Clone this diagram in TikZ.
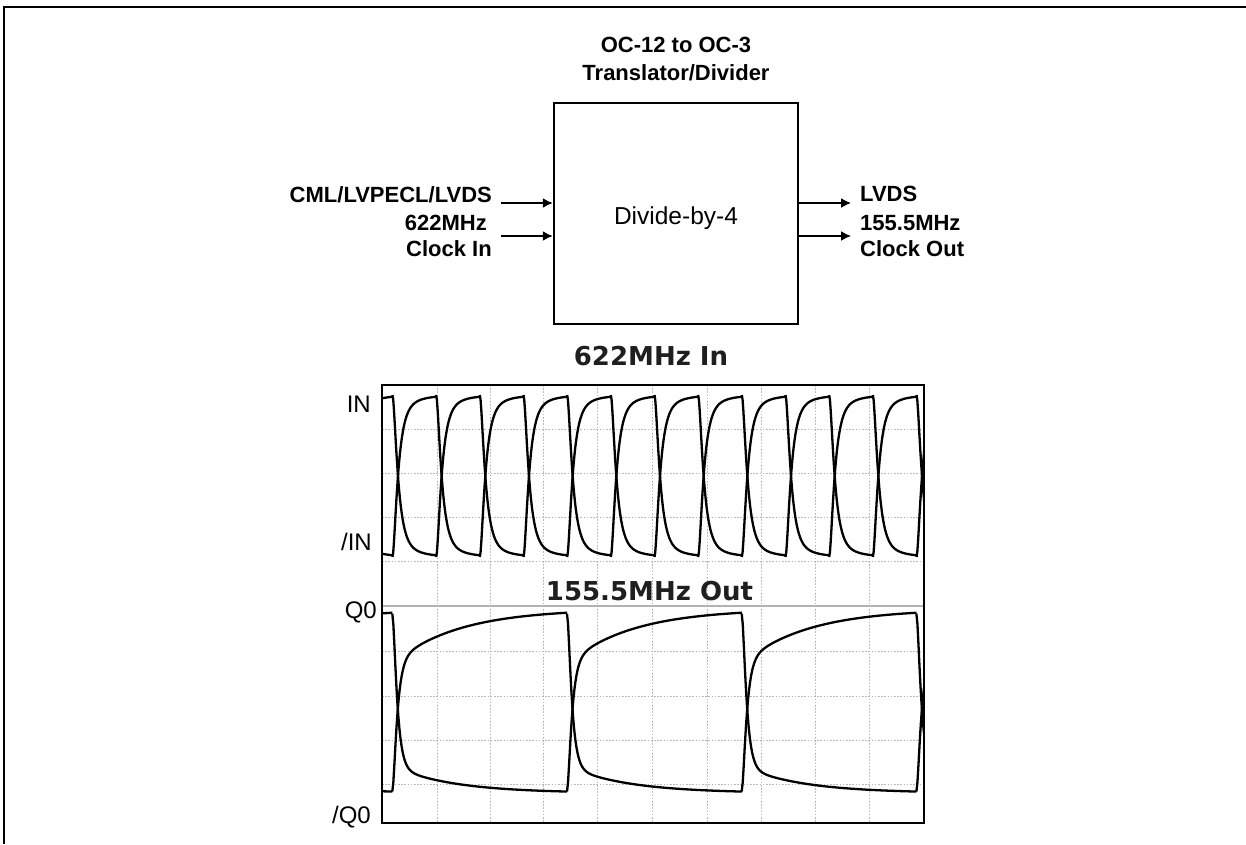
\documentclass[tikz,border=0pt]{standalone}
\usepackage{fontspec}
\setmainfont{Liberation Sans}
\newfontfamily\scopefont{DejaVu Sans}
\usetikzlibrary{arrows.meta}
\begin{document}
\begin{tikzpicture}[x=1pt,y=-1pt,
  lbl/.style={font=\fontsize{22}{26}\selectfont\bfseries, inner sep=0pt},
  blocktxt/.style={font=\fontsize{24.5}{28}\selectfont, inner sep=0pt},
  axl/.style={font=\fontsize{24}{28}\selectfont, inner sep=0pt},
  ttl/.style={font=\scopefont\fontsize{26}{30}\selectfont\bfseries, text=black!88, inner sep=0pt},
  arr/.style={line width=1.5pt, -{Latex[length=10pt,width=10pt]}},
  grid line/.style={gray!55, line width=1pt, dash pattern=on 1.6pt off 1.6pt},
  trace/.style={black, line width=2.3pt, line join=round}]
\useasboundingbox (0,0) rectangle (1246,844);
\fill[white] (0,0) rectangle (1246,844);
% outer frame (top and left only visible)
\draw[line width=2.2pt] (4,844) -- (4,7) -- (1246,7);

% ---------- block diagram ----------
\node[lbl, anchor=base] (t1) at (676,52.5) {OC-12 to OC-3};
\node[lbl, anchor=base] (t2) at (676,80.5) {Translator/Divider};
\node[draw, line width=2.5pt, minimum width=244pt, minimum height=221pt, inner sep=0pt] (blk) at (676,213.5) {};
\node[blocktxt, anchor=base] (div) at (676,224) {Divide-by-4};

\coordinate (i1) at (501,203);
\coordinate (i2) at (501,236);
\coordinate (o1) at (851,203);
\coordinate (o2) at (851,236);
\draw[arr] (i1) -- (i1 -| blk.west);
\draw[arr] (i2) -- (i2 -| blk.west);
\draw[arr] (o1 -| blk.east) -- (o1);
\draw[arr] (o2 -| blk.east) -- (o2);

\node[lbl, anchor=base east] (l1) at (492,202.3) {CML/LVPECL/LVDS};
\node[lbl, anchor=base east] (l2) at (487,230) {622MHz};
\node[lbl, anchor=base east] (l3) at (492,256.7) {Clock In};
\node[lbl, anchor=base west] (r1) at (860,201.7) {LVDS};
\node[lbl, anchor=base west] (r2) at (860,230) {155.5MHz};
\node[lbl, anchor=base west] (r3) at (860,256.7) {Clock Out};

% ---------- scope screen ----------
\node[ttl, anchor=base] (sc1) at (651,365) {622MHz In};

\foreach \gx in {437,490,543,597,652,707,761,815,869}
  \draw[grid line] (\gx,385) -- (\gx,823);
\foreach \gy in {429,473,517,561,651,696,740,784}
  \draw[grid line] (382,\gy) -- (924,\gy);
\draw[gray!60, line width=1.2pt] (382,606) -- (924,606);

\node[ttl, anchor=base] (sc2) at (649.5,600.7) {155.5MHz Out};

\begin{scope}
\clip (382,385) rectangle (924,823);
% 622 MHz differential input
\foreach \k in {-1,...,12} {
  \pgfmathsetmacro\s{392.5+43.67*\k}
  \draw[trace] plot[domain=0:43.7, samples=60]
    ({\s+\x}, {395+162*(0.88*(5*exp(max(-\x/5,-15))-1.5*exp(max(-\x/1.5,-15)))/3.5+0.12*exp(-\x/18))});
  \draw[trace] plot[domain=0:43.7, samples=60]
    ({\s+\x}, {557-162*(0.88*(5*exp(max(-\x/5,-15))-1.5*exp(max(-\x/1.5,-15)))/3.5+0.12*exp(-\x/18))});
}
% 155.5 MHz output
\foreach \k in {-1,...,3} {
  \pgfmathsetmacro\s{392.3+174.7*\k}
  \draw[trace] plot[domain=0:174.8, samples=170]
    ({\s+\x}, {609+182.5*(0.7*(4*exp(max(-\x/4,-15))-1.5*exp(max(-\x/1.5,-15)))/2.5+0.3*exp(-\x/65))});
  \draw[trace] plot[domain=0:174.8, samples=170]
    ({\s+\x}, {793-179.3*(0.85*(4*exp(max(-\x/4,-15))-1.5*exp(max(-\x/1.5,-15)))/2.5+0.15*exp(-\x/60))});
}
\end{scope}
\draw[line width=2pt] (382,385) rectangle (924,823);

\node[axl, anchor=base east] (ain) at (371,412.3) {IN};
\node[axl, anchor=base east] (ainb) at (372,550.7) {/IN};
\node[axl, anchor=base east] (aq) at (377,618) {Q0};
\node[axl, anchor=base east] (aqb) at (371,823.3) {/Q0};
\end{tikzpicture}
\end{document}
